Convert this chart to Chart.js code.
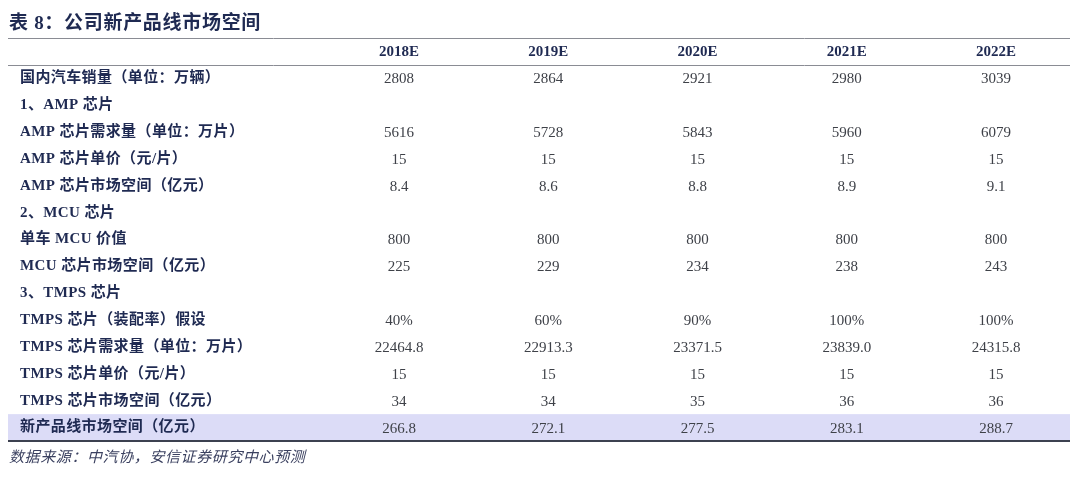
<!DOCTYPE html>
<html>
<head>
<meta charset="utf-8">
<script src="https://cdn.jsdelivr.net/npm/chart.js@4.4.0/dist/chart.umd.min.js"></script>
<style>
  body { margin: 0; background: #fff; }
  #table { display: block; }
</style>
</head>
<body>
<canvas id="table" width="1080" height="485"></canvas>
<script>
const title = "表 8：公司新产品线市场空间";
const source = "数据来源：中汽协，安信证券研究中心预测";
const years = ["2018E", "2019E", "2020E", "2021E", "2022E"];
const rowLabels = [
  "国内汽车销量（单位：万辆）",
  "1、AMP 芯片",
  "AMP 芯片需求量（单位：万片）",
  "AMP 芯片单价（元/片）",
  "AMP 芯片市场空间（亿元）",
  "2、MCU 芯片",
  "单车 MCU 价值",
  "MCU 芯片市场空间（亿元）",
  "3、TMPS 芯片",
  "TMPS 芯片（装配率）假设",
  "TMPS 芯片需求量（单位：万片）",
  "TMPS 芯片单价（元/片）",
  "TMPS 芯片市场空间（亿元）",
  "新产品线市场空间（亿元）",
];
const carSales = ["2808", "2864", "2921", "2980", "3039"];
const ampDemand = ["5616", "5728", "5843", "5960", "6079"];
const ampPrice = ["15", "15", "15", "15", "15"];
const ampMarket = ["8.4", "8.6", "8.8", "8.9", "9.1"];
const mcuValue = ["800", "800", "800", "800", "800"];
const mcuMarket = ["225", "229", "234", "238", "243"];
const tmpsRate = ["40%", "60%", "90%", "100%", "100%"];
const tmpsDemand = ["22464.8", "22913.3", "23371.5", "23839.0", "24315.8"];
const tmpsPrice = ["15", "15", "15", "15", "15"];
const tmpsMarket = ["34", "34", "35", "36", "36"];
const newTotal = ["266.8", "272.1", "277.5", "283.1", "288.7"];

// row values in the same order as rowLabels (null = section heading)
const rowValues = [carSales, null, ampDemand, ampPrice, ampMarket, null,
  mcuValue, mcuMarket, null, tmpsRate, tmpsDemand, tmpsPrice, tmpsMarket, newTotal];

const HEADER = "header";
const rowKeys = [HEADER].concat(rowLabels);

const NAVY = "#1f2a52";
const VALUE = "#3e4148";
const CJK = '"Noto Sans CJK SC"';

function cellPoints(texts, rowKey) {
  return texts.map((t, i) => ({ x: i + 1, y: rowKey, text: t }));
}

const datasets = [{
  label: "years",
  data: cellPoints(years, HEADER),
  bold: true,
}];
rowValues.forEach((vals, r) => {
  if (vals) datasets.push({ label: rowLabels[r], data: cellPoints(vals, rowLabels[r]) });
});
datasets.forEach(d => { d.pointRadius = 0; d.pointHoverRadius = 0; d.showLine = false; });

const tablePlugin = {
  id: "tablePlugin",
  beforeDatasetsDraw(chart) {
    const { ctx, chartArea, scales } = chart;
    const y = scales.y;
    const band = y.getPixelForValue(1) - y.getPixelForValue(0);
    const last = rowKeys.length - 1;
    ctx.save();
    // highlighted total row
    ctx.fillStyle = "#dcdcf7";
    ctx.fillRect(chartArea.left, y.getPixelForValue(last) - band / 2,
      chartArea.right - chartArea.left, band);
    // rules
    ctx.strokeStyle = "#8a8c94";
    ctx.lineWidth = 1;
    [chartArea.top, y.getPixelForValue(0) + band / 2].forEach(py => {
      ctx.beginPath();
      ctx.moveTo(chartArea.left, Math.round(py) + 0.5);
      ctx.lineTo(chartArea.right, Math.round(py) + 0.5);
      ctx.stroke();
    });
    ctx.strokeStyle = "#3c4150";
    ctx.lineWidth = 2;
    ctx.beginPath();
    ctx.moveTo(chartArea.left, Math.round(chartArea.bottom));
    ctx.lineTo(chartArea.right, Math.round(chartArea.bottom));
    ctx.stroke();
    ctx.restore();
  },
  afterDatasetsDraw(chart) {
    const { ctx, chartArea, scales } = chart;
    const y = scales.y;
    ctx.save();
    ctx.textBaseline = "middle";
    // title and source
    ctx.fillStyle = NAVY;
    ctx.textAlign = "left";
    ctx.letterSpacing = "0.7px";
    ctx.font = 'bold 19px "Liberation Serif", ' + CJK;
    ctx.fillText(title, 9, 24);
    ctx.fillStyle = "#3b4160";
    ctx.letterSpacing = "0.6px";
    ctx.font = 'italic 15px "Liberation Serif", ' + CJK;
    ctx.fillText(source, 9, 458);
    // row labels
    ctx.fillStyle = NAVY;
    ctx.letterSpacing = "0.4px";
    ctx.font = 'bold 15px "Liberation Serif", ' + CJK;
    rowLabels.forEach((lab, i) => {
      ctx.fillText(lab, chartArea.left + 12, y.getPixelForValue(i + 1));
    });
    // cells
    ctx.letterSpacing = "0px";
    ctx.textAlign = "center";
    chart.data.datasets.forEach((ds, di) => {
      const meta = chart.getDatasetMeta(di);
      ctx.fillStyle = ds.bold ? NAVY : VALUE;
      ctx.font = (ds.bold ? "bold " : "") + '15px "Liberation Serif", ' + CJK;
      meta.data.forEach((el, i) => {
        ctx.fillText(ds.data[i].text, el.x, el.y + 1);
      });
    });
    ctx.restore();
  },
};

new Chart(document.getElementById("table"), {
  type: "scatter",
  data: { datasets: datasets },
  options: {
    responsive: false,
    animation: false,
    devicePixelRatio: 1,
    layout: { padding: { left: 8, right: 10, top: 38, bottom: 44 } },
    plugins: { legend: { display: false }, tooltip: { enabled: false } },
    events: [],
    scales: {
      x: { type: "linear", min: -1.62, max: 5.4956, display: false },
      y: { type: "category", labels: rowKeys, offset: true, display: false },
    },
  },
  plugins: [tablePlugin],
});
</script>
</body>
</html>
